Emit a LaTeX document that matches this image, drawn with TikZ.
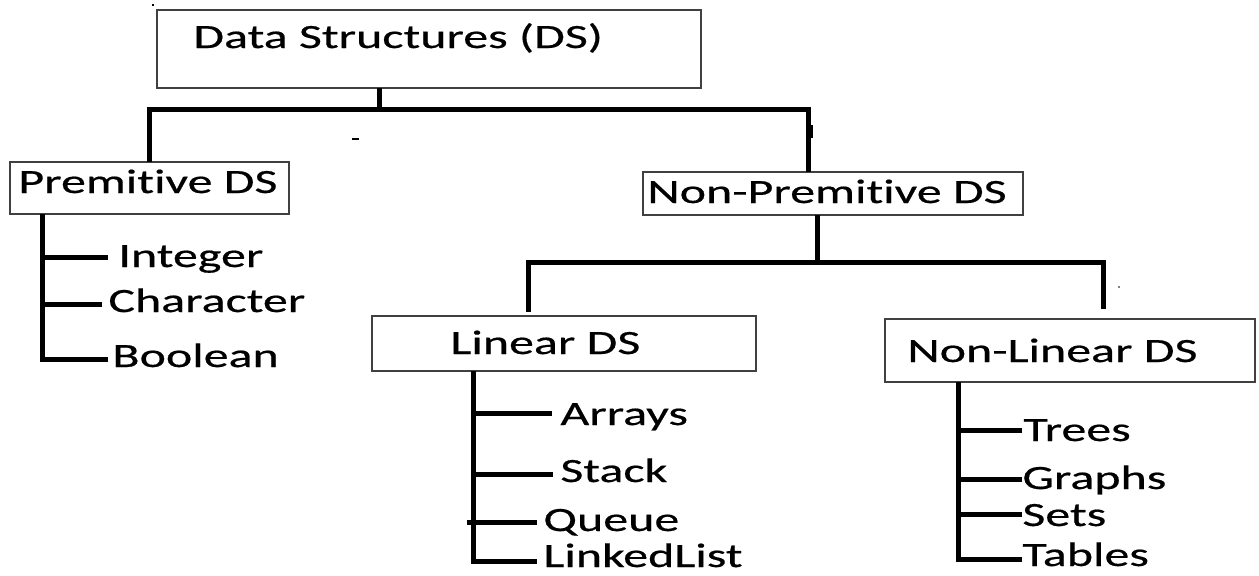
\documentclass[tikz,border=0pt]{standalone}
\usepackage{fontspec}
\newfontfamily\dsfont{Carlito}[FakeStretch=1.47,FakeBold=0.5,Ligatures=NoCommon]
\definecolor{boxgray}{RGB}{64,64,64}
\begin{document}
\begin{tikzpicture}[x=0.5pt,y=-0.5pt,
  box/.style={draw=boxgray,line width=0.75pt,inner sep=0pt,outer sep=0pt,anchor=north west},
  lbl/.style={inner sep=0pt,anchor=base west,text=black,font={\dsfont\fontsize{17pt}{20pt}\selectfont}},
  conn/.style={line width=2.5pt,line join=miter,draw=black}]
\useasboundingbox (0,0) rectangle (1259,575);

% boxes
\node[box,minimum width=272pt,minimum height=39pt] (top) at (157,10) {};
\node[box,minimum width=139.5pt,minimum height=26pt] (prim) at (10,162) {};
\node[box,minimum width=190pt,minimum height=21.5pt] (nonprim) at (643,172) {};
\node[box,minimum width=192pt,minimum height=27.5pt] (lin) at (372,316) {};
\node[box,minimum width=185pt,minimum height=31.5pt] (nonlin) at (885,319) {};

% box texts
\node[lbl] (tTop) at (193,48) {Data Structures (DS)};
\node[lbl] (tPrim) at (18,193) {Premitive DS};
\node[lbl] (tNonPrim) at (647,203) {Non-Premitive DS};
\node[lbl] (tLin) at (450,354) {Linear DS};
\node[lbl] (tNonLin) at (907,362) {Non-Linear DS};

% leaf texts
\node[lbl] (tInt) at (118,267) {Integer};
\node[lbl] (tChr) at (108,312) {Character};
\node[lbl] (tBoo) at (112,367) {Boolean};
\node[lbl] (tArr) at (560,425) {Arrays};
\node[lbl] (tStk) at (560,482) {Stack};
\node[lbl] (tQue) at (543,531) {Queue};
\node[lbl] (tLnk) at (543,567) {LinkedList};
\node[lbl] (tTre) at (1023,441) {Trees};
\node[lbl] (tGra) at (1022,489) {Graphs};
\node[lbl] (tSet) at (1022,526) {Sets};
\node[lbl] (tTab) at (1022,566) {Tables};

% top level connectors
\coordinate (j0) at (379,109);
\coordinate (jL) at (149,109);
\coordinate (jR) at (808,109);
\draw[conn] (top.south -| j0) -- (j0);
\draw[conn] (prim.north -| jL) -- (jL) -- (jR) -- (nonprim.north -| jR);
\fill (810,125) rectangle (813,138);

% non-primitive connectors
\coordinate (j1) at (817,262);
\coordinate (j1L) at (528,262);
\coordinate (j1R) at (1103,262);
\draw[conn] (nonprim.south -| j1) -- (j1);
\draw[conn,shorten <=2pt,shorten >=5pt] (lin.north -| j1L) -- (j1L) -- (j1R) -- (nonlin.north -| j1R);

% primitive comb
\coordinate (bV) at (42,0);
\coordinate (bInt) at (108,257);
\coordinate (bChr) at (102,304);
\coordinate (bBoo) at (108,359);
\draw[conn] (prim.south -| bV) |- (bBoo);
\draw[conn] (bInt -| bV) -- (bInt);
\draw[conn] (bChr -| bV) -- (bChr);

% linear comb
\coordinate (lV) at (473,0);
\coordinate (lArr) at (552,413);
\coordinate (lStk) at (553,474);
\coordinate (lQs) at (467,522);
\coordinate (lQue) at (537,522);
\coordinate (lLnk) at (537,561);
\draw[conn] (lin.south -| lV) |- (lLnk);
\draw[conn] (lArr -| lV) -- (lArr);
\draw[conn] (lStk -| lV) -- (lStk);
\draw[conn] (lQs) -- (lQue);

% non-linear comb
\coordinate (nV) at (958,0);
\coordinate (nTre) at (1022,430);
\coordinate (nGra) at (1022,479);
\coordinate (nSet) at (1022,514);
\coordinate (nTab) at (1022,559);
\draw[conn] (nonlin.south -| nV) |- (nTab);
\draw[conn] (nTre -| nV) -- (nTre);
\draw[conn] (nGra -| nV) -- (nGra);
\draw[conn] (nSet -| nV) -- (nSet);

% stray marks
\fill (352,137.5) rectangle (359,139.5);
\fill (152,4) rectangle (154,6);
\fill[gray] (1118,286) rectangle (1120,288);
\end{tikzpicture}
\end{document}
